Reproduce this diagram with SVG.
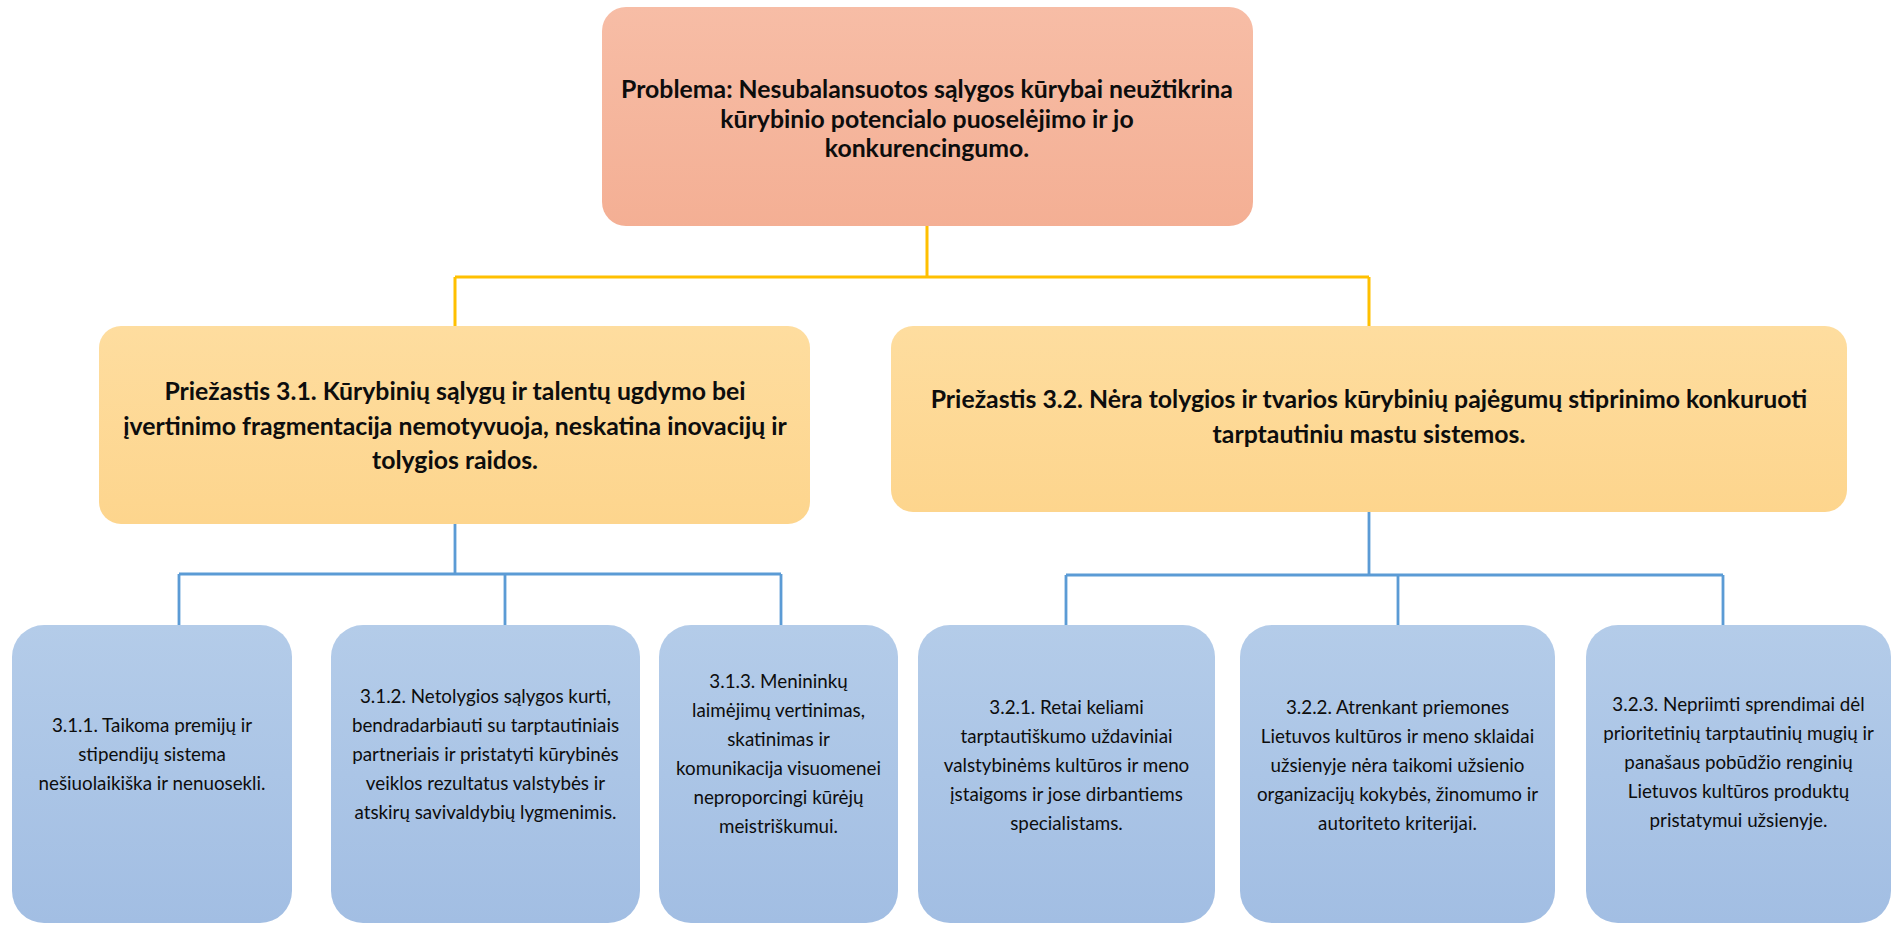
<svg xmlns="http://www.w3.org/2000/svg" width="1898" height="925" viewBox="0 0 1898 925">
<defs>
<linearGradient id="gTop" x1="0" y1="0" x2="0" y2="1"><stop offset="0" stop-color="#F7BDA6"/><stop offset="1" stop-color="#F4AF94"/></linearGradient>
<linearGradient id="gMid" x1="0" y1="0" x2="0" y2="1"><stop offset="0" stop-color="#FEDD9F"/><stop offset="1" stop-color="#FDD58D"/></linearGradient>
<linearGradient id="gLow" x1="0" y1="0" x2="0" y2="1"><stop offset="0" stop-color="#B4CCE9"/><stop offset="1" stop-color="#A2BEE3"/></linearGradient>
</defs>
<style>
.top{fill:url(#gTop)}
.mid{fill:url(#gMid)}
.low{fill:url(#gLow)}
.yl{stroke:#FFC000;stroke-width:3;fill:none}
.bl{stroke:#5B9BD5;stroke-width:2.8;fill:none}
text{font-family:Lato,"Open Sans","Liberation Sans",sans-serif;fill:#0D0D0D;text-anchor:middle}
.b{font-weight:bold;font-size:24.8px}
.r{font-size:18.8px}
</style>
<rect width="1898" height="925" fill="#FFFFFF"/>
<g id="connectors">
<path class="yl" d="M927 226V277M455 277H1369M455 277V326M1369 277V326"/>
<path class="bl" d="M455 524V574M179 574H781M179 574V625M505 574V625M781 574V625"/>
<path class="bl" d="M1369 512V575M1066 575H1723M1066 575V625M1398 575V625M1723 575V625"/>
</g>
<g id="problem">
<rect class="top" x="602" y="7" width="651" height="219" rx="24"/>
<text class="b"><tspan x="927" y="98">Problema: Nesubalansuotos sąlygos kūrybai neužtikrina</tspan><tspan x="927" y="127.5">kūrybinio potencialo puoselėjimo ir jo</tspan><tspan x="927" y="157">konkurencingumo.</tspan></text>
</g>
<g id="cause31">
<rect class="mid" x="99" y="326" width="711" height="198" rx="22"/>
<text class="b"><tspan x="455" y="400">Priežastis 3.1. Kūrybinių sąlygų ir talentų ugdymo bei</tspan><tspan x="455" y="434.5">įvertinimo fragmentacija nemotyvuoja, neskatina inovacijų ir</tspan><tspan x="455" y="469">tolygios raidos.</tspan></text>
</g>
<g id="cause32">
<rect class="mid" x="891" y="326" width="956" height="186" rx="22"/>
<text class="b"><tspan x="1369" y="408">Priežastis 3.2. Nėra tolygios ir tvarios kūrybinių pajėgumų stiprinimo konkuruoti</tspan><tspan x="1369" y="443">tarptautiniu mastu sistemos.</tspan></text>
</g>
<g id="n311">
<rect class="low" x="12" y="625" width="280" height="298" rx="32"/>
<text class="r"><tspan x="152" y="731.5">3.1.1. Taikoma premijų ir</tspan><tspan x="152" y="760.5">stipendijų sistema</tspan><tspan x="152" y="789.5">nešiuolaikiška ir nenuosekli.</tspan></text>
</g>
<g id="n312">
<rect class="low" x="331" y="625" width="309" height="298" rx="32"/>
<text class="r"><tspan x="485.5" y="702.5">3.1.2. Netolygios sąlygos kurti,</tspan><tspan x="485.5" y="731.5">bendradarbiauti su tarptautiniais</tspan><tspan x="485.5" y="760.5">partneriais ir pristatyti kūrybinės</tspan><tspan x="485.5" y="789.5">veiklos rezultatus valstybės ir</tspan><tspan x="485.5" y="818.5">atskirų savivaldybių lygmenimis.</tspan></text>
</g>
<g id="n313">
<rect class="low" x="659" y="625" width="239" height="298" rx="32"/>
<text class="r"><tspan x="778.5" y="688">3.1.3. Menininkų</tspan><tspan x="778.5" y="717">laimėjimų vertinimas,</tspan><tspan x="778.5" y="746">skatinimas ir</tspan><tspan x="778.5" y="775">komunikacija visuomenei</tspan><tspan x="778.5" y="804">neproporcingi kūrėjų</tspan><tspan x="778.5" y="833">meistriškumui.</tspan></text>
</g>
<g id="n321">
<rect class="low" x="918" y="625" width="297" height="298" rx="32"/>
<text class="r"><tspan x="1066.5" y="713.5">3.2.1. Retai keliami</tspan><tspan x="1066.5" y="742.5">tarptautiškumo uždaviniai</tspan><tspan x="1066.5" y="771.5">valstybinėms kultūros ir meno</tspan><tspan x="1066.5" y="800.5">įstaigoms ir jose dirbantiems</tspan><tspan x="1066.5" y="829.5">specialistams.</tspan></text>
</g>
<g id="n322">
<rect class="low" x="1240" y="625" width="315" height="298" rx="32"/>
<text class="r"><tspan x="1397.5" y="713.5">3.2.2. Atrenkant priemones</tspan><tspan x="1397.5" y="742.5">Lietuvos kultūros ir meno sklaidai</tspan><tspan x="1397.5" y="771.5">užsienyje nėra taikomi užsienio</tspan><tspan x="1397.5" y="800.5">organizacijų kokybės, žinomumo ir</tspan><tspan x="1397.5" y="829.5">autoriteto kriterijai.</tspan></text>
</g>
<g id="n323">
<rect class="low" x="1586" y="625" width="305" height="298" rx="32"/>
<text class="r"><tspan x="1738.5" y="711">3.2.3. Nepriimti sprendimai dėl</tspan><tspan x="1738.5" y="740">prioritetinių tarptautinių mugių ir</tspan><tspan x="1738.5" y="769">panašaus pobūdžio renginių</tspan><tspan x="1738.5" y="798">Lietuvos kultūros produktų</tspan><tspan x="1738.5" y="827">pristatymui užsienyje.</tspan></text>
</g>
</svg>
